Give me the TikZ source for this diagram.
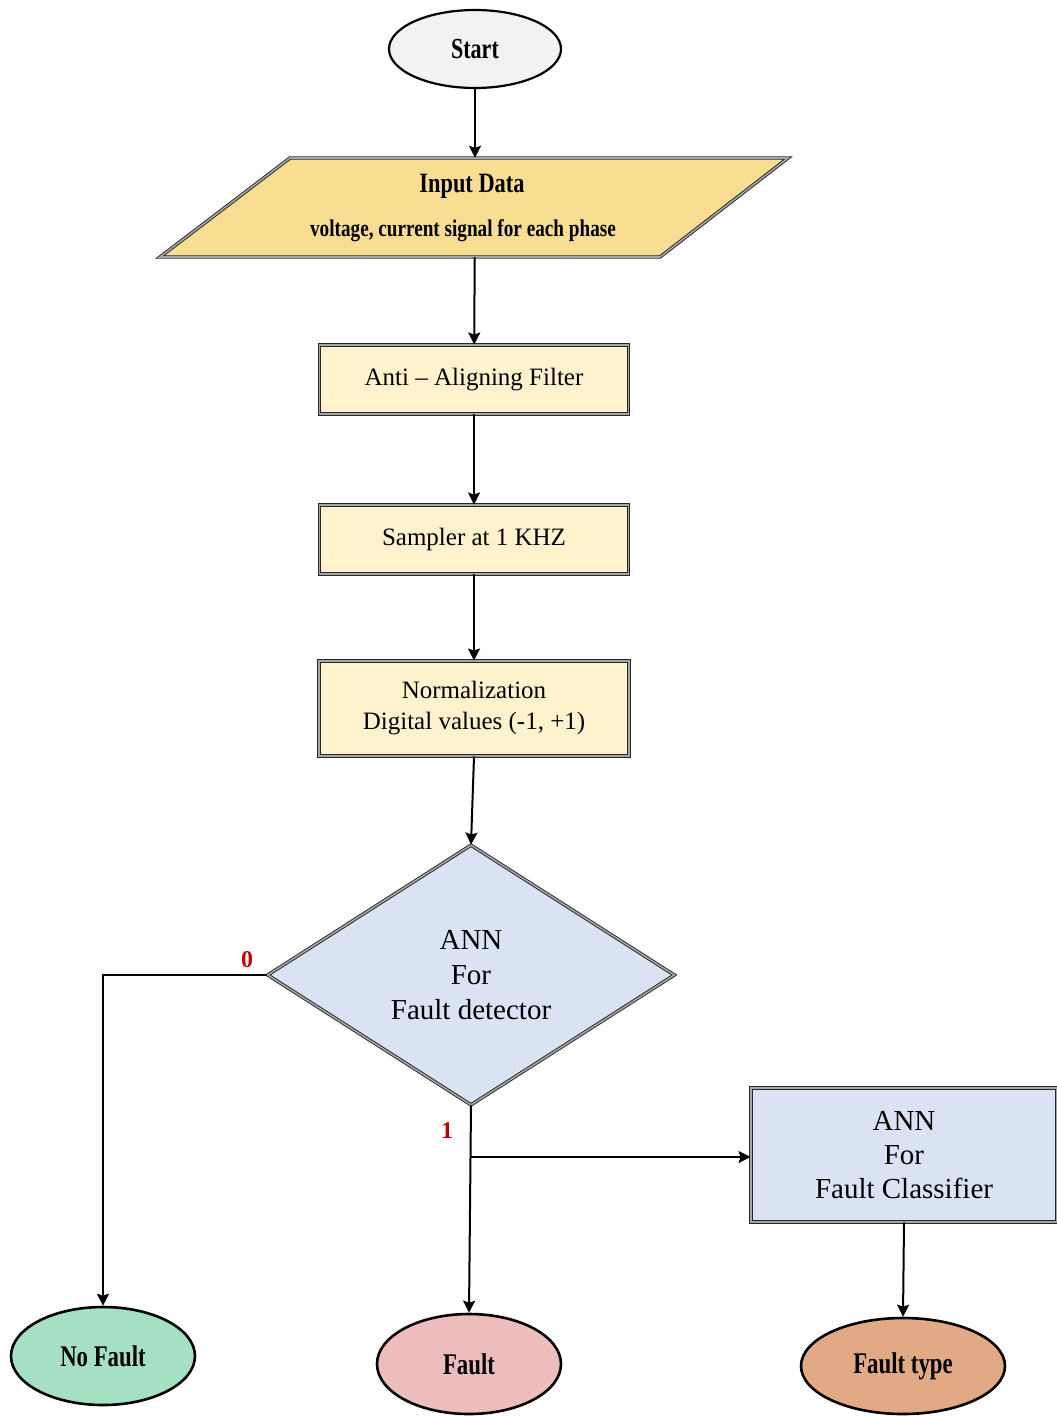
\documentclass[tikz,border=0pt]{standalone}
\usepackage{fontspec}
\setmainfont{Liberation Serif}
\usetikzlibrary{shapes.geometric,arrows.meta}
\definecolor{startc}{HTML}{F2F2F2}
\definecolor{inpc}{HTML}{F9DD93}
\definecolor{boxc}{HTML}{FFF2CC}
\definecolor{bluec}{HTML}{DAE3F3}
\definecolor{nofc}{HTML}{A6E0C2}
\definecolor{faultc}{HTML}{EDBDBD}
\definecolor{ftypec}{HTML}{E2AA84}
\definecolor{redc}{HTML}{C00000}
\newcommand{\cond}[1]{\scalebox{0.76}[1]{#1}}
\tikzset{
  dbl/.style={draw=black!85, line width=0.9pt, double=black!35, double distance=1.6pt},
  procbox/.style={rectangle, dbl, fill=boxc, align=center, inner sep=0pt, font=\fontsize{25}{31}\selectfont},
  oval/.style={ellipse, draw=black, line width=2.6pt, inner sep=0pt, font=\fontsize{30}{34}\selectfont\bfseries},
  arr/.style={line width=2pt, -{Stealth[length=12pt,width=12pt,inset=2pt]}},
  redlbl/.style={text=redc, font=\fontsize{24}{26}\selectfont\bfseries, inner sep=0pt}
}
\begin{document}
\begin{tikzpicture}[x=1pt,y=-1pt]
\useasboundingbox (0,0) rectangle (1057,1416);
% Start
\node[oval, fill=startc, line width=2.2pt, minimum width=172pt, minimum height=78pt, font=\fontsize{29}{32}\selectfont\bfseries] (start) at (475,49) {\cond{Start}};
% Input data parallelogram
\node[minimum width=370pt, minimum height=99pt, inner sep=0pt] (inp) at (475,207.5) {};
\draw[dbl, fill=inpc] (160,257) -- (290,158) -- (788,158) -- (660,257) -- cycle;
\node[font=\fontsize{28}{30}\selectfont\bfseries, inner sep=0pt] (inpt) at (472,186) {\scalebox{0.8}[1]{Input Data}};
\node[font=\fontsize{24}{26}\selectfont\bfseries, inner sep=0pt] (inps) at (463,231) {\scalebox{0.8}[1]{voltage, current signal for each phase}};
% Process boxes
\node[procbox, minimum width=309pt, minimum height=69pt] (anti) at (474,379.5) {Anti -- Aligning Filter};
\node[procbox, minimum width=309pt, minimum height=69pt] (samp) at (474,539.5) {Sampler at 1 KHZ};
\node[procbox, minimum width=310pt, minimum height=95pt] (norm) at (474,708.5) {Normalization\\Digital values (-1, +1)};
% Decision
\node[diamond, dbl, fill=bluec, minimum width=407pt, minimum height=260pt, inner sep=0pt, align=center, font=\fontsize{29}{35}\selectfont] (det) at (471,975) {ANN\\For\\Fault detector};
% Classifier
\node[rectangle, dbl, fill=bluec, minimum width=306pt, minimum height=134pt, inner sep=0pt, align=center, font=\fontsize{29}{34}\selectfont] (cls) at (904,1155) {ANN\\For\\Fault Classifier};
% Terminals
\node[oval, fill=nofc, minimum width=184pt, minimum height=98pt] (nof) at (103,1356) {\cond{No Fault}};
\node[oval, fill=faultc, minimum width=184pt, minimum height=100pt] (flt) at (469,1364) {\cond{Fault}};
\node[oval, fill=ftypec, minimum width=204pt, minimum height=96pt] (fty) at (903,1366) {\cond{Fault type}};
% Connectors
\draw[arr] (start) -- (inp);
\draw[arr] (inp) -- (anti);
\draw[arr] (anti) -- (samp);
\draw[arr] (samp) -- (norm);
\draw[arr] (norm.south) -- (det.north);
\draw[arr] (det.west) -| (nof.north);
\draw[arr] (det.south) -- (flt.north);
\coordinate (br) at (det.south |- 0,1157);
\draw[arr] (br) -- (br -| cls.west);
\draw[arr] (cls.south) -- (fty.north);
% Labels
\node[redlbl] (l0) at (247,960) {0};
\node[redlbl] (l1) at (447,1131) {1};
\end{tikzpicture}
\end{document}
